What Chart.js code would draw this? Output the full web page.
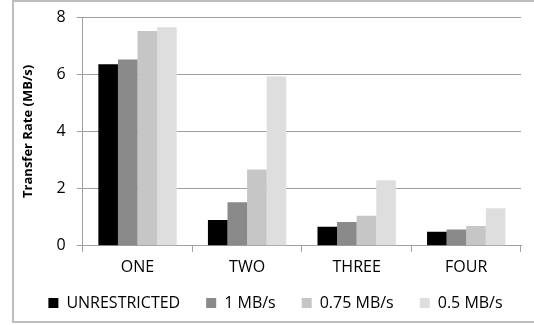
<!DOCTYPE html>
<html>
<head>
<meta charset="utf-8">
<script src="https://cdn.jsdelivr.net/npm/chart.js@4"></script>
<style>
  html, body { margin: 0; padding: 0; background: #fff; overflow: hidden; }
  #marco { position: absolute; left: 12px; top: 0px; width: 540px; height: 323px; border: 2px solid #bdbdbd; box-sizing: border-box; }
</style>
</head>
<body>
<div id="marco"><canvas id="graficaTransferencia" width="520" height="319"></canvas></div>
<script>
// categorias del eje x
const categorias = ['ONE', 'TWO', 'THREE', 'FOUR'];
// nombres de las series (leyenda)
const series = ['UNRESTRICTED', '1 MB/s', '0.75 MB/s', '0.5 MB/s'];
// valores de cada serie
const sinLimite = [6.35, 0.90, 0.67, 0.49];
const unMB = [6.51, 1.52, 0.83, 0.57];
const ceroSetentaCinco = [7.51, 2.67, 1.05, 0.69];
const ceroCinco = [7.64, 5.92, 2.29, 1.31];
// marcas del eje y
const marcasY = [0, 2, 4, 6, 8];

const colores = ['#000000', '#8a8a8a', '#c6c6c6', '#dedede'];
const valores = [sinLimite, unMB, ceroSetentaCinco, ceroCinco];

const fuente = "'Open Sans', sans-serif";

// la leyenda cabe en una fila, ocupa menos alto y se dibuja un poco mas arriba
const ajusteLeyenda = {
  id: 'ajusteLeyenda',
  beforeInit(chart) {
    const fitOriginal = chart.legend.fit;
    chart.legend.fit = function () {
      this.maxWidth += 20;
      fitOriginal.bind(chart.legend)();
      this.height -= 14;
    };
  },
  afterLayout(chart) {
    const ley = chart.legend;
    ley.top -= 14; // el borde inferior se queda igual para que no se recorte el texto
    ley.left -= 10;
    ley.right += 20;
  }
};

const ctx = document.getElementById('graficaTransferencia').getContext('2d');
new Chart(ctx, {
  type: 'bar',
  data: {
    labels: categorias,
    datasets: series.map((nombre, i) => ({
      label: nombre,
      data: valores[i],
      backgroundColor: colores[i],
      borderWidth: 0,
      categoryPercentage: 0.715,
      barPercentage: 1.0
    }))
  },
  options: {
    responsive: false,
    animation: false,
    layout: { padding: { left: 6, right: 13, top: 3, bottom: 0 } },
    plugins: {
      tooltip: { enabled: false },
      legend: {
        position: 'bottom',
        labels: {
          boxWidth: 10,
          boxHeight: 10,
          padding: 26,
          color: '#000',
          font: { family: fuente, size: 16 }
        }
      }
    },
    scales: {
      x: {
        grid: { drawOnChartArea: false, tickLength: 6, color: '#a0a0a0', offset: true },
        border: { color: '#a0a0a0', width: 1 },
        ticks: { color: '#000', font: { family: fuente, size: 16 }, padding: 6 }
      },
      y: {
        min: 0,
        max: 8,
        afterBuildTicks: (eje) => { eje.ticks = marcasY.map(v => ({ value: v })); },
        afterFit: (eje) => { eje.paddingTop = 15; }, // la grafica empieza mas arriba
        grid: { color: '#a0a0a0', tickLength: 6 },
        border: { color: '#a0a0a0', width: 1 },
        ticks: { color: '#000', font: { family: fuente, size: 16 }, padding: 11 },
        title: {
          display: true,
          text: 'Transfer Rate (MB/s)',
          color: '#000',
          font: { family: fuente, size: 13, weight: 'bold' },
          padding: { top: 0, bottom: 10 }
        }
      }
    }
  },
  plugins: [ajusteLeyenda]
});
</script>
</body>
</html>
